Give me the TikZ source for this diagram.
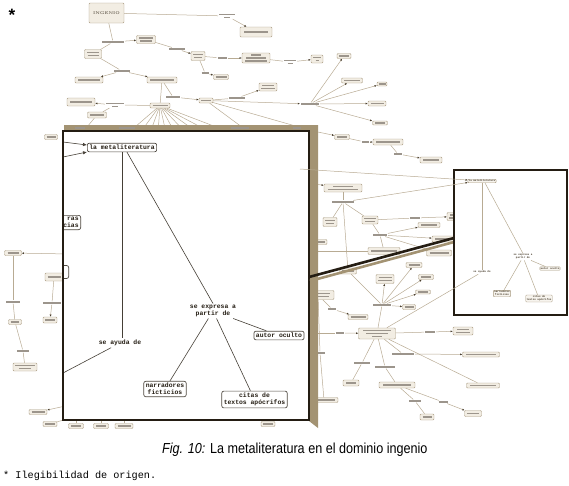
\documentclass[tikz,border=0pt]{standalone}
\usepackage{fontspec}
\usetikzlibrary{arrows.meta}
\newfontfamily\mono{Liberation Mono}
\newfontfamily\capfont{Liberation Sans}
\definecolor{tinta}{HTML}{4A3F2E}
\definecolor{linea}{HTML}{B8AB93}
\definecolor{borde}{HTML}{A99B82}
\definecolor{relleno}{HTML}{F2EDE3}
\definecolor{marco}{HTML}{241D13}
\definecolor{sombra}{HTML}{A39373}
\newcommand{\borr}[1]{\textcolor{tinta!55}{\rule{#1pt}{1.2pt}}}
\newcommand{\cj}[6]{\node[caja,minimum width=#4pt,minimum height=#5pt] (#1) at (#2,#3) {#6};}
\tikzset{
  caja/.style={draw=borde, fill=relleno, rounded corners=1pt, line width=0.45pt, inner sep=0pt, align=center, font=\fontsize{2.5}{3}\selectfont},
  enl/.style={inner sep=0.8pt, align=center, font=\fontsize{2.5}{3}\selectfont},
  con/.style={draw=linea, line width=0.5pt},
  fl/.style={con, -{Latex[length=2.2pt,width=2pt,color=tinta]}},
  gcaja/.style={draw=marco!80, fill=white, rounded corners=2pt, line width=0.7pt, inner sep=2pt, align=center, text=marco, font=\mono\bfseries\fontsize{6.4}{6.8}\selectfont},
  gtxt/.style={inner sep=1.5pt, align=center, text=marco, font=\mono\bfseries\fontsize{6.4}{6.8}\selectfont},
  glin/.style={draw=marco!85, line width=0.6pt},
  gfl/.style={glin, -{Latex[length=4pt,width=3.5pt]}},
  pcaja/.style={draw=borde, fill=relleno!60, rounded corners=0.8pt, line width=0.4pt, inner sep=0.8pt, align=center, text=tinta, font=\mono\bfseries\fontsize{2.6}{2.9}\selectfont},
  ptxt/.style={inner sep=0.8pt, align=center, text=tinta, font=\mono\bfseries\fontsize{2.6}{2.9}\selectfont},
}

\begin{document}
\begin{tikzpicture}[x=1pt,y=-1pt]
\useasboundingbox (0,0) rectangle (569,485);

\node[font=\mono\bfseries\fontsize{17}{17}\selectfont, inner sep=0pt] (ast) at (12,15) {*};

% mapa de fondo
\cj{ingenio}{106.5}{13}{35}{20}{\textcolor{tinta!80}{\fontsize{4}{4}\selectfont\bfseries INGENIO}}
\node[enl] (nomb) at (227,16) {\borr{16}\\\borr{6}};
\cj{cultpop}{256}{32}{32}{10}{\borr{24}}
\node[enl] (organ) at (113,42) {\borr{22}};
\cj{signif}{146}{39.5}{19}{8}{\borr{14}\\\borr{12}}
\cj{produc}{93}{54}{17}{9}{\borr{12}\\\borr{11}}
\node[enl] (artic) at (177,49) {\borr{16}};
\cj{espacio}{198}{56}{14}{9}{\borr{10}\\\borr{8}}
\node[enl] (genera) at (222,58) {\borr{9}};
\cj{sentido}{256}{58}{28}{10}{\borr{10}\\\borr{20}\\\borr{22}}
\node[enl] (digerido) at (290,62) {\borr{12}\\\borr{5}};
\cj{lectura}{317}{59}{12}{8}{\borr{8}\\\borr{3}}
\node[enl] (como) at (205,73) {\borr{7}};
\cj{antiest}{221}{77}{15}{5}{\borr{11}}
\node[enl] (divide) at (122,71) {\borr{16}};
\cj{inglit1}{89}{80}{28}{6}{\borr{22}}
\cj{inglit2}{162}{80}{30}{6}{\borr{24}}
\node[enl] (cuyos) at (173,97) {\borr{14}};
\cj{tipos}{206}{100.5}{14}{5}{\borr{10}}
\node[enl] (actual) at (237,98) {\borr{16}};
\cj{generos}{268}{87}{18}{8}{\borr{12}\\\borr{14}}
\node[enl] (conducen) at (310,104) {\borr{18}};
\cj{r1}{344}{56}{14}{5}{\borr{10}}
\cj{r2}{352}{80.5}{21}{5}{\borr{16}}
\cj{r3}{382}{84}{10}{4}{\borr{7}}
\cj{r4}{377}{103.5}{18}{5}{\borr{13}}
\cj{r5}{380}{123}{15}{4}{\borr{10}}
\node[enl] (soning) at (115,105) {\borr{18}\\\borr{6}};
\cj{cortom}{81}{102}{28}{8}{\borr{22}}
\cj{narrac}{97}{115}{19}{6}{\borr{14}}
\cj{literat}{160}{105.5}{20}{5}{\borr{15}}
\node[enl] (suscit) at (313,131) {\borr{5}};
\cj{teatro}{342}{137}{15}{5}{\borr{10}}
\node[enl] (puede) at (365,142) {\borr{7}};
\cj{cultura}{388}{142}{30}{6}{\borr{24}}
\node[enl] (genero) at (398,154) {\borr{8}};
\cj{iconog}{431}{160}{22}{6}{\borr{16}}

\cj{estruct}{343}{188}{38}{8}{\borr{20}\\\borr{30}}
\node[enl] (consiste) at (343,202) {\borr{22}};
\cj{sistema}{330}{222}{14}{9}{\borr{10}\\\borr{8}}
\cj{dialog}{370}{220}{16}{8}{\borr{12}\\\borr{10}}
\node[enl] (obras) at (415,218) {\borr{10}};
\cj{formas}{456}{216.5}{18}{8}{\borr{12}\\\borr{14}}
\node[enl] (catalog) at (380,235) {\borr{14}};
\cj{metafis}{429}{225}{22}{5}{\borr{16}}
\cj{lengu1}{446}{239}{28}{6}{\borr{22}}
\cj{lengu2}{439}{253}{25}{6}{\borr{19}}
\cj{inglit3}{384}{251}{32}{7}{\borr{26}}
\cj{fuerza}{320}{242}{14}{5}{\borr{10}}
\cj{personaj}{348}{271}{17}{6}{\borr{12}}
\cj{aport}{414}{265}{16}{5}{\borr{11}}
\cj{estudio}{385}{279}{18}{9}{\borr{13}\\\borr{14}}
\cj{r6}{426}{277}{15}{5}{\borr{10}}
\cj{r7}{423}{292}{15}{4}{\borr{10}}
\cj{r8}{409}{307}{13}{5}{\borr{9}}
\node[enl] (caract) at (382,305) {\borr{18}};
\cj{perslit}{318}{295}{32}{9}{\borr{24}\\\borr{22}}
\node[enl] (puede2) at (332,309) {\borr{8}};
\cj{cortom2}{358}{317}{20}{5}{\borr{15}}

\cj{metafora}{377}{333.5}{37}{11}{\borr{28}\\\borr{22}\\\borr{10}}
\node[enl] (genera2) at (340,333) {\borr{8}};
\node[enl] (comosu) at (430,332) {\borr{10}};
\cj{ingmet}{463}{331}{20}{8}{\borr{12}\\\borr{14}}
\node[enl] (usamayor) at (403,354) {\borr{22}};
\cj{recreac}{481}{354.5}{37}{5}{\borr{30}}
\cj{textos}{483}{385.5}{33}{5}{\borr{26}}
\node[enl] (vincula) at (362,363) {\borr{16}};
\cj{mapa}{351}{383}{16}{6}{\borr{10}}
\node[enl] (suelen) at (385,367) {\borr{20}};
\cj{personaj2}{397}{385}{36}{6}{\borr{28}}
\node[enl] (actuan) at (415,401) {\borr{12}};
\cj{ruisen}{427}{417}{14}{6}{\borr{9}}
\node[enl] (tienen) at (443,402) {\borr{9}};
\cj{r9}{473}{413.5}{17}{6}{\borr{12}}
\node[enl] (permite) at (320,353) {\borr{10}};
\cj{otra}{324}{400}{28}{5}{\borr{22}}

\cj{lirica}{13}{253}{17}{5}{\borr{11}}
\cj{narrac2}{54}{277}{18}{8}{\borr{13}}
\node[enl] (subdiv) at (52,303) {\borr{18}};
\cj{fabulas}{50}{320}{14}{6}{\borr{10}}
\node[enl] (explor) at (13,302) {\borr{14}};
\cj{poesia}{15}{322}{13}{5}{\borr{9}}
\node[enl] (creados) at (23,351) {\borr{12}};
\cj{compos}{25}{367}{24}{8}{\borr{20}\\\borr{12}}
\cj{romances}{38}{412}{18}{5}{\borr{13}}
\cj{historias}{50}{424}{14}{5}{\borr{10}}
\cj{clasicos}{51}{137}{13}{5}{\borr{9}}
\cj{b1}{76}{426}{15}{5}{\borr{10}}
\cj{b2}{101}{426}{15}{5}{\borr{10}}
\cj{b3}{124}{426}{18}{5}{\borr{13}}
\cj{b4}{268}{424}{14}{5}{\borr{10}}

\coordinate (fr1) at (300,169);
\coordinate (fr2) at (300,182);
\coordinate (fr3) at (300,242);
\coordinate (fr4) at (300,251);
\coordinate (fr5) at (300,333);
\coordinate (fl1) at (70,254);
\coordinate (fl2) at (70,405);
\coordinate (fl3) at (70,418);
\coordinate (fb1) at (76,415);
\coordinate (fb2) at (101,415);
\coordinate (fb3) at (124,415);
\coordinate (fb4) at (268,415);
\coordinate (fv1) at (82,133);

\draw[con] (ingenio) -- (nomb);
\draw[fl] (nomb) -- (cultpop);
\draw[con] (ingenio) -- (organ);
\draw[fl] (organ) -- (signif);
\draw[con] (organ) -- (produc);
\draw[con] (signif) -- (artic);
\draw[fl] (artic) -- (espacio);
\draw[con] (espacio) -- (genera);
\draw[fl] (genera) -- (sentido);
\draw[con] (sentido) -- (digerido);
\draw[fl] (digerido) -- (lectura);
\draw[con] (espacio) -- (como);
\draw[fl] (como) -- (antiest);
\draw[con] (produc) -- (divide);
\draw[fl] (divide) -- (inglit1);
\draw[fl] (divide) -- (inglit2);
\draw[con] (inglit2) -- (cuyos);
\draw[fl] (cuyos) -- (tipos);
\draw[con] (inglit2) -- (literat);
\draw[con] (tipos) -- (actual);
\draw[fl] (actual) -- (generos);
\draw[fl] (tipos) -- (conducen);
\foreach \r in {r1,r2,r3,r4,r5}
  \draw[fl] (conducen) -- (\r);
\draw[con] (literat) -- (soning);
\draw[fl] (soning) -- (cortom);
\draw[con] (soning) -- (narrac);
\draw[con] (narrac) -- (fv1);
\draw[con] (tipos) -- (suscit);
\draw[fl] (suscit) -- (teatro);
\draw[con] (teatro) -- (puede);
\draw[fl] (puede) -- (cultura);
\draw[con] (cultura) -- (genero);
\draw[fl] (genero) -- (iconog);
\foreach \x [count=\i] in {128,140,150,158,166,175,186,198,212,232} {
  \coordinate (lt\i) at (\x,133);
  \draw[con] (literat) -- (lt\i);
}
\coordinate (lt11) at (250,133);
\draw[con] (tipos) -- (lt11);

\draw[fl] (fr2) -- (estruct);
\draw[con] (estruct) -- (consiste);
\draw[con] (consiste) -- (sistema);
\draw[con] (consiste) -- (dialog);
\draw[con] (consiste) -- (personaj);
\draw[con] (dialog) -- (obras);
\draw[fl] (obras) -- (formas);
\draw[con] (dialog) -- (catalog);
\draw[fl] (catalog) -- (metafis);
\draw[fl] (catalog) -- (lengu1);
\draw[con] (catalog) -- (lengu2);
\draw[con] (catalog) -- (inglit3);
\draw[fl] (fr3) -- (fuerza);
\draw[con] (fr4) -- (inglit3);
\foreach \r in {estudio,aport,r6,r7,r8}
  \draw[fl] (caract) -- (\r);
\draw[con] (personaj) -- (caract);
\draw[con] (caract) -- (metafora);
\draw[con] (perslit) -- (puede2);
\draw[fl] (puede2) -- (cortom2);
\draw[con] (perslit) -- (permite);
\draw[con] (permite) -- (otra);
\draw[con] (fr5) -- (genera2);
\draw[fl] (genera2) -- (metafora);
\draw[con] (metafora) -- (comosu);
\draw[fl] (comosu) -- (ingmet);
\draw[con] (metafora) -- (usamayor);
\draw[fl] (usamayor) -- (recreac);
\draw[con] (metafora) -- (textos);
\draw[con] (metafora) -- (vincula);
\draw[con] (vincula) -- (mapa);
\draw[con] (metafora) -- (suelen);
\draw[con] (suelen) -- (personaj2);
\draw[con] (personaj2) -- (actuan);
\draw[con] (actuan) -- (ruisen);
\draw[con] (personaj2) -- (tienen);
\draw[fl] (tienen) -- (r9);

\draw[fl] (fl1) -- (lirica);
\draw[con] (lirica) -- (explor);
\draw[con] (explor) -- (poesia);
\draw[con] (poesia) -- (creados);
\draw[con] (creados) -- (compos);
\draw[con] (narrac2) -- (subdiv);
\draw[fl] (subdiv) -- (fabulas);
\draw[fl] (fl2) -- (romances);
\draw[con] (fl3) -- (historias);
\draw[con] (fb1) -- (b1);
\draw[con] (fb2) -- (b2);
\draw[con] (fb3) -- (b3);
\draw[con] (fb4) -- (b4);

% recuadro grande
\fill[sombra] (64,125) -- (318,125) -- (318,428) -- (309,421) -- (309,131) -- (64,131) -- cycle;
\foreach \x/\w in {80/10,127/16,240/18,297/8}
  \node[enl] at (\x,128) {\borr{\w}};
\draw[marco, line width=2.6pt, fill=white] (63,131) rectangle (309,420);
\begin{scope}
\clip (63,131) rectangle (309,420);
\node[gcaja] (gmeta) at (122,147.5) {la metaliteratura};
\node[gtxt] (gexpr) at (213,311) {se expresa a\\partir de};
\node[gcaja] (gautor) at (279,335.5) {autor oculto};
\node[gtxt] (gayuda) at (120,343) {se ayuda de};
\node[gcaja] (gnarr) at (165,389) {narradores\\ficticios};
\node[gcaja] (gcitas) at (254.5,399.5) {citas de\\textos ap\'ocrifos};
\node[gcaja, anchor=east, text width=40pt, align=right] (gparc1) at (81,222.5) {ras\\cias};
\node[gcaja, anchor=east, minimum width=30pt, minimum height=13pt] (gparc2) at (69,272) {};
\coordinate (ga1) at (63,142);
\coordinate (ga2) at (63,157);
\coordinate (gsal) at (63,373);
\draw[gfl] (ga1) -- ([yshift=2.5pt]gmeta.west);
\draw[gfl] (ga2) -- ([yshift=-4.5pt]gmeta.west);
\draw[glin] (gmeta.south) -- (gmeta.south |- gayuda.north);
\draw[glin] ([xshift=5pt]gmeta.south) -- (gexpr.north);
\draw[glin] (gexpr) -- (gnarr);
\draw[glin] (gexpr) -- (gcitas);
\draw[glin] (gexpr) -- (gautor);
\draw[glin] (gayuda) -- (gsal);
\end{scope}
\draw[marco, line width=2.6pt] (63,131) rectangle (309,420);

% enlace grueso
\coordinate (ea) at (310,281);
\coordinate (eb) at (454,242);
\coordinate (ec) at (309,277);
\coordinate (ed) at (454,238);
\draw[sombra, line width=2.6pt] (ea) -- (eb);
\draw[marco, line width=2.6pt] (ec) -- (ed);

% recuadro chico
\draw[marco, line width=1.8pt, fill=white] (454,170) rectangle (567,315);
\node[pcaja] (pmeta) at (482,181) {la metaliteratura};
\node[ptxt] (pexpr) at (523,257) {se expresa a\\partir de};
\node[pcaja] (pautor) at (550,268.5) {autor oculto};
\node[ptxt] (payuda) at (482,272) {se ayuda de};
\node[pcaja] (pnarr) at (502,293.5) {narradores\\ficticios};
\node[pcaja] (pcitas) at (539,298.5) {citas de\\textos ap\'ocrifos};
\draw[con] (pmeta.south) -- (pmeta.south |- payuda.north);
\draw[con] ([xshift=3pt]pmeta.south) -- (pexpr.north);
\draw[con] (pexpr) -- (pnarr);
\draw[con] (pexpr) -- (pcitas);
\draw[con] (pexpr) -- (pautor);
\draw[fl] (fr1) -- ([yshift=1pt]pmeta.west);
\draw[fl] (consiste) -- ([yshift=-1.5pt]pmeta.west);
\draw[con] (payuda) -- (metafora);

% textos al pie
\node[anchor=base west, inner sep=0pt, font=\capfont\fontsize{14.5}{16}\selectfont] (pie) at (162,453)
  {\scalebox{0.87}[1]{\textit{Fig. 10:} La metaliteratura en el dominio ingenio}};
\node[anchor=base west, inner sep=0pt, font=\mono\fontsize{10.2}{12}\selectfont] (nota) at (3,478)
  {* Ilegibilidad de origen.};
\end{tikzpicture}
\end{document}
